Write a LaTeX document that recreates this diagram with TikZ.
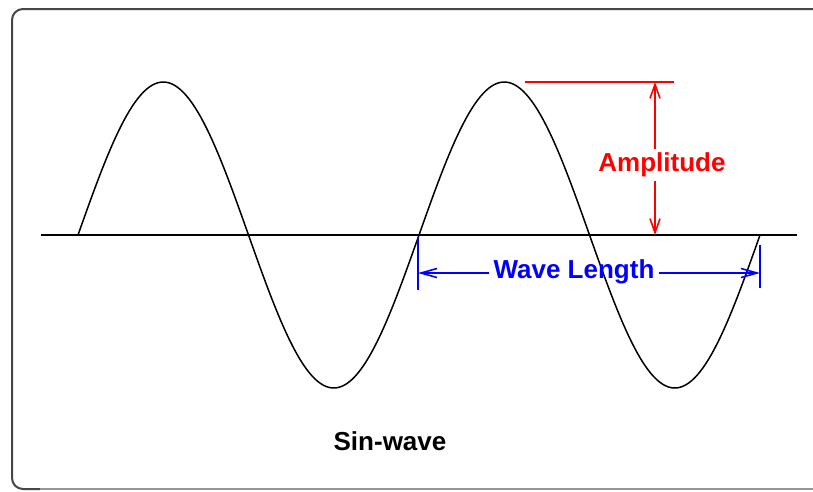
\documentclass[tikz,border=0pt]{standalone}
\usepackage{fontspec}
\setmainfont{Liberation Sans}
\usetikzlibrary{arrows.meta, positioning, calc}
\definecolor{ampRed}{RGB}{255, 0, 0}
\definecolor{wlBlue}{RGB}{0, 0, 255}
\definecolor{frameEdge}{RGB}{70, 70, 70}
\definecolor{frameLow}{RGB}{150, 150, 150}
\tikzset{
  bigtext/.style={
    font=\fontsize{26}{31}\selectfont\bfseries, inner sep=4pt,
  },
  ampline/.style={
    draw=ampRed, line width=1.6pt,
  },
  amparrow/.style={
    ampline, -{Straight Barb[length=14pt, width=10pt]},
  },
  wlline/.style={
    draw=wlBlue, line width=1.6pt,
  },
  wlarrow/.style={
    wlline, -{Straight Barb[length=16pt, width=9pt]},
  },
  waveline/.style={
    draw=black, line width=1.5pt,
  },
}

\begin{document}
\begin{tikzpicture}[x=1pt, y=-1pt]

\useasboundingbox (0,0) rectangle (813,491);

% =========================================================================
% frame (open on the right)
% =========================================================================

\draw[draw=frameEdge, line width=2pt, rounded corners=11pt]
  (830,9) -- (12,9) -- (12,489) -- (40,489);
\draw[draw=frameLow, line width=2pt] (40,489) -- (830,489);

% =========================================================================
% axis and sine wave
% =========================================================================

\coordinate (axisL) at (41,235);
\coordinate (axisR) at (797,235);
\draw[waveline, line width=2pt] (axisL) -- (axisR);

\draw[waveline] plot[domain=78:760, samples=240]
  (\x, {235-153*sin(1.0557*(\x-78))});

% =========================================================================
% amplitude
% =========================================================================

\coordinate (peakR) at (525,82);
\coordinate (ampTop) at (655,82);
\coordinate (ampBase) at (655,235);
\draw[ampline] (peakR) -- (674,82);

\node[bigtext, text=ampRed] (amp) at (662,165) {Amplitude};

\draw[amparrow] (ampTop |- amp.north) -- (ampTop);
\draw[amparrow] (ampBase |- amp.south) -- (ampBase);

% =========================================================================
% wave length
% =========================================================================

\coordinate (wlL) at (418,273);
\coordinate (wlR) at (760,273);
\draw[wlline] (418,237) -- (418,290);
\draw[wlline] (760,245) -- (760,288);

\node[bigtext, text=wlBlue] (wl) at (574,272) {Wave Length};

\draw[wlarrow] (wl.west |- wlL) -- (wlL);
\draw[wlarrow] (wl.east |- wlR) -- (wlR);

% =========================================================================
% caption
% =========================================================================

\node[bigtext] (cap) at (390,441) {Sin-wave};

\end{tikzpicture}
\end{document}
